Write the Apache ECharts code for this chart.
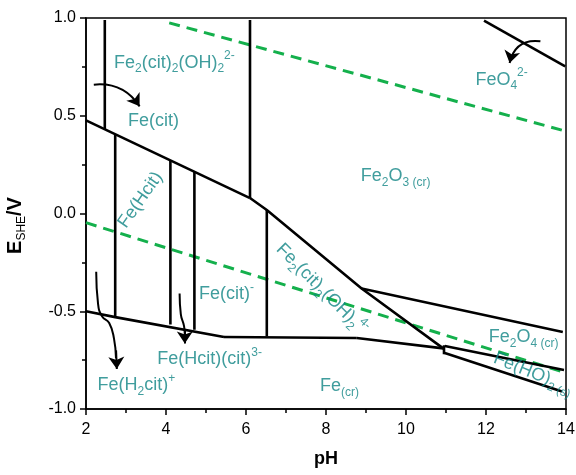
<!DOCTYPE html>
<html><head><meta charset="utf-8">
<script src="https://cdn.jsdelivr.net/npm/echarts@6/dist/echarts.min.js"></script>
<style>html,body{margin:0;padding:0;background:#fff}#c{width:576px;height:475px}</style>
</head><body><div id="c"></div>
<script>
// axis ranges / ticks
const xRange = [2, 14];
const yRange = [-1.0, 1.0];

// black phase boundaries [pH, E]
const bV247 = [[2.47, 0.99], [2.47, 0.431]];
const bUpper = [[2, 0.476], [6.1, 0.079]];
const bV61 = [[6.1, 0.99], [6.1, 0.079]];
const bSteep = [[6.1, 0.079], [6.52, 0.018], [8.89, -0.384], [10.93, -0.69]];
const bFe2O4Top = [[8.89, -0.384], [13.92, -0.606]];
const bLower = [[2, -0.5], [2.73, -0.53], [5.45, -0.632]];
const bLowerFlat = [[5.45, -0.632], [8.77, -0.637]];
const bLowerRight = [[8.77, -0.637], [10.93, -0.69]];
const bV273 = [[2.73, 0.405], [2.73, -0.524]];
const bV411 = [[4.11, 0.272], [4.11, -0.568]];
const bV471 = [[4.71, 0.214], [4.71, -0.594]];
const bV652 = [[6.52, 0.018], [6.52, -0.628]];
const bTick = [[10.95, -0.674], [10.95, -0.72]];
const bFeOH2Top = [[10.97, -0.678], [13.95, -0.80]];
const bFeOH2Bot = [[10.97, -0.714], [13.9, -0.91]];
const bFeO4 = [[11.95, 0.987], [13.98, 0.753]];

// water stability lines (green dashed)
const wO2 = [[4.08, 0.975], [13.92, 0.425]];
const wH2 = [[2, -0.047], [13.93, -0.811]];

// curved arrows (start, end)
const arrowFeCit = [[2.195, 0.659], [3.34, 0.548]];
const arrowFeO4 = [[13.36, 0.881], [12.59, 0.770]];
// S-shaped arrow bodies
const arrowH2cit = [[2.255, -0.298], [2.30, -0.46], [2.40, -0.525], [2.58, -0.56], [2.70, -0.64], [2.75, -0.74]];
const arrowH2citHead = [[2.752, -0.70], [2.77, -0.795]];
const arrowHcitCit = [[4.34, -0.409], [4.37, -0.515], [4.45, -0.575], [4.47, -0.62]];
const arrowHcitCitHead = [[4.47, -0.60], [4.47, -0.665]];

// species labels: [pH, E, rich text, rotation]
const speciesLabels = [
  [4.21, 0.772, '{n|Fe}{sub|2}{n|(cit)}{sub|2}{n|(OH)}{sub|2}{sup|2-}', 0],
  [3.69, 0.471, '{n|Fe(cit)}', 0],
  [3.36, 0.069, '{n|Fe(Hcit)}', 55],
  [9.74, 0.19, '{n|Fe}{sub|2}{n|O}{sub|3 (cr)}', 0],
  [12.39, 0.685, '{n|FeO}{sub|4}{sup|2-}', 0],
  [5.51, -0.413, '{n|Fe(cit)}{sup|-}', 0],
  [7.89, -0.387, '{n|Fe}{sub|2}{n|(cit)}{sub|2}{n|(OH)}{sub|2}{sup|4-}', -45],
  [5.09, -0.743, '{n|Fe(Hcit)(cit)}{sup|3-}', 0],
  [3.26, -0.879, '{n|Fe(H}{sub|2}{n|cit)}{sup|+}', 0],
  [8.34, -0.885, '{n|Fe}{sub|(cr)}', 0],
  [12.94, -0.633, '{n|Fe}{sub|2}{n|O}{sub|4 (cr)}', 0],
  [13.18, -0.818, '{n|Fe(HO)}{sub|2 (s)}', -22]
];

const FONT = '"Liberation Sans", Arial, sans-serif';
const TEAL = '#108585';
const GREEN = '#14b04c';

function bline(d) {
  return { type: 'line', data: d, symbol: 'none', silent: true, z: 3,
    lineStyle: { color: '#000', width: 2.6 }, animation: false };
}
function gline(d) {
  return { type: 'line', data: d, symbol: 'none', silent: true, z: 2,
    lineStyle: { color: GREEN, width: 3, type: [11, 7] }, animation: false };
}

const series = [
  bV247, bUpper, bV61, bSteep, bFe2O4Top, bLower, bLowerFlat, bLowerRight,
  bV273, bV411, bV471, bV652, bTick, bFeOH2Top, bFeOH2Bot, bFeO4
].map(bline);
series.push(gline(wO2), gline(wH2));

// curved arrows
series.push({
  type: 'lines', coordinateSystem: 'cartesian2d', silent: true, z: 4, animation: false,
  symbol: ['none', 'arrow'], symbolSize: 12,
  lineStyle: { color: '#000', width: 2, opacity: 1 },
  data: [
    { coords: arrowFeCit, lineStyle: { curveness: 0.3 } },
    { coords: arrowFeO4, lineStyle: { curveness: -0.45 } },
    { coords: arrowH2citHead, lineStyle: { curveness: 0 } },
    { coords: arrowHcitCitHead, lineStyle: { curveness: 0 } }
  ]
});
[arrowH2cit, arrowHcitCit].forEach(d => series.push({
  type: 'line', data: d, symbol: 'none', smooth: 0.5, silent: true, z: 4, animation: false,
  lineStyle: { color: '#000', width: 2 }
}));

// labels
series.push({
  type: 'scatter', silent: true, z: 5, animation: false, symbolSize: 1,
  itemStyle: { color: 'rgba(0,0,0,0)' },
  data: speciesLabels.map(l => ({
    value: [l[0], l[1]],
    label: { show: true, position: 'inside', formatter: l[2], rotate: l[3] }
  })),
  label: {
    fontFamily: FONT,
    rich: {
      n: { fontSize: 18, color: TEAL, fontFamily: FONT, lineHeight: 25 },
      sub: { fontSize: 12, color: TEAL, fontFamily: FONT, lineHeight: 12, verticalAlign: 'bottom' },
      sup: { fontSize: 12, color: TEAL, fontFamily: FONT, lineHeight: 12, verticalAlign: 'top' }
    }
  }
});

const chart = echarts.init(document.getElementById('c'), null, { renderer: 'canvas' });
chart.setOption({
  animation: false,
  backgroundColor: '#fff',
  grid: { left: 86, right: 10, top: 18, bottom: 66, outerBoundsMode: 'none', containLabel: false,
    show: true, borderColor: '#000', borderWidth: 1.5, backgroundColor: 'transparent' },
  xAxis: {
    type: 'value', min: xRange[0], max: xRange[1], interval: 2,
    name: 'pH', nameLocation: 'middle', nameGap: 41,
    nameTextStyle: { fontFamily: FONT, fontSize: 18, fontWeight: 'bold', color: '#000' },
    axisLine: { show: true, onZero: false, lineStyle: { color: '#000', width: 1.5 } },
    axisTick: { show: true, inside: false, length: 6, lineStyle: { color: '#000', width: 1.5 } },
    minorTick: { show: true, splitNumber: 2, length: 4, lineStyle: { color: '#000', width: 1.5 } },
    splitLine: { show: false },
    axisLabel: { fontFamily: FONT, fontSize: 16, color: '#000', margin: 13 }
  },
  yAxis: {
    type: 'value', min: yRange[0], max: yRange[1], interval: 0.5,
    name: '{b|E}{s|SHE}{b|/V}', nameLocation: 'middle', nameGap: 58, nameRotate: 90,
    nameTextStyle: {
      padding: [0, 24, 0, 0],
      rich: {
        b: { fontFamily: FONT, fontSize: 20, fontWeight: 'bold', color: '#000', lineHeight: 26 },
        s: { fontFamily: FONT, fontSize: 12, color: '#000', lineHeight: 12, verticalAlign: 'bottom' }
      }
    },
    axisLine: { show: true, onZero: false, lineStyle: { color: '#000', width: 1.5 } },
    axisTick: { show: true, inside: false, length: 6, lineStyle: { color: '#000', width: 1.5 } },
    minorTick: { show: true, splitNumber: 2, length: 4, lineStyle: { color: '#000', width: 1.5 } },
    splitLine: { show: false },
    axisLabel: { fontFamily: FONT, fontSize: 16, color: '#000', margin: 10,
      formatter: v => v.toFixed(1) }
  },
  series: series
});
</script>
</body></html>
